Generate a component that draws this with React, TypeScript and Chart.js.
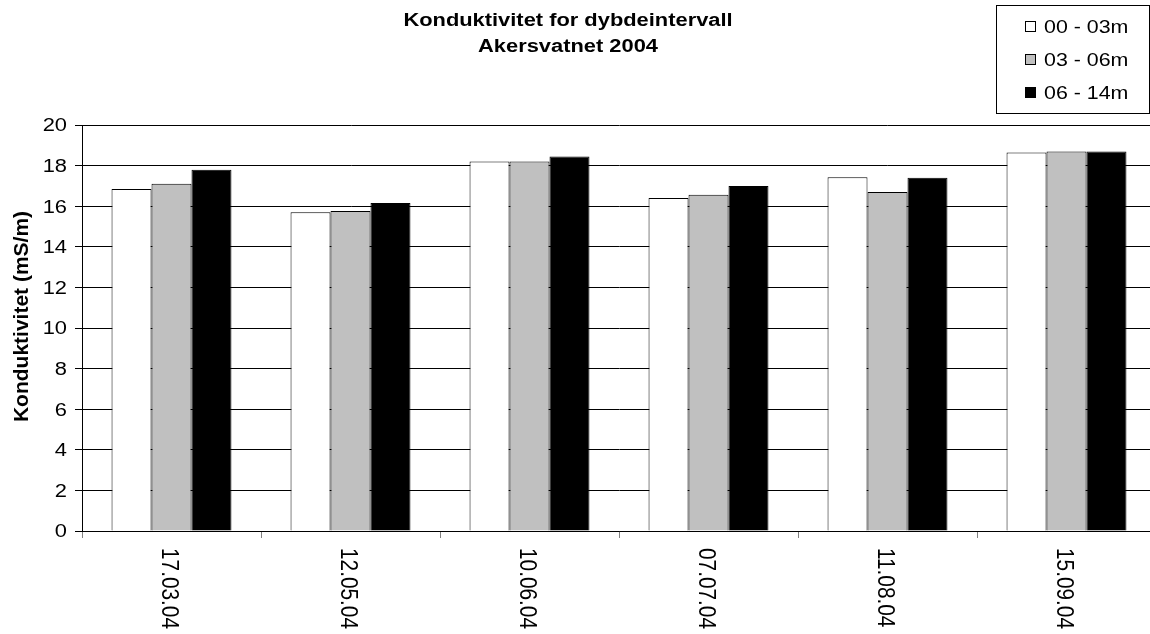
import React, { useEffect, useRef } from "react";
import { Chart, registerables } from "chart.js";

Chart.register(...registerables);

const categories = ["17.03.04", "12.05.04", "10.06.04", "07.07.04", "11.08.04", "15.09.04"];
const seriesNames = ["00 - 03m", "03 - 06m", "06 - 14m"];
const series0to3 = [16.85, 15.7, 18.2, 16.4, 17.42, 18.65];
const series3to6 = [17.1, 15.76, 18.2, 16.57, 16.7, 18.7];
const series6to14 = [17.8, 16.16, 18.45, 17.0, 17.4, 18.7];
const seriesColors = ["#ffffff", "#c0c0c0", "#000000"];
const yTickValues = [0, 2, 4, 6, 8, 10, 12, 14, 16, 18, 20];
const titleLines = ["Konduktivitet for dybdeintervall", "Akersvatnet 2004"];
const yAxisTitle = "Konduktivitet (mS/m)";

const FONT = '"Liberation Sans", Arial, sans-serif';

function drawText(
  ctx: CanvasRenderingContext2D,
  s: string,
  x: number,
  y: number,
  font: string,
  sx: number,
  align: CanvasTextAlign,
  rot: number
) {
  ctx.save();
  ctx.translate(x, y);
  ctx.scale(sx, 1);
  ctx.rotate(rot);
  ctx.font = font;
  ctx.textAlign = align;
  ctx.textBaseline = "alphabetic";
  ctx.fillStyle = "#000";
  ctx.fillText(s, 0, 0);
  ctx.restore();
}

const decorPlugin = {
  id: "decor",
  afterDraw(chart: any) {
    const ctx: CanvasRenderingContext2D = chart.ctx;
    const xs = chart.scales.x;
    const ys = chart.scales.y;

    // title
    drawText(ctx, titleLines[0], 568, 25.7, `bold 18.7px ${FONT}`, 1.17, "center", 0);
    drawText(ctx, titleLines[1], 568, 51.7, `bold 18.7px ${FONT}`, 1.17, "center", 0);

    // legend
    ctx.save();
    ctx.strokeStyle = "#000";
    ctx.lineWidth = 1;
    ctx.strokeRect(996.5, 5.5, 153, 108);
    const rows = [26.5, 59.5, 92.5];
    seriesNames.forEach((name, i) => {
      const cy = rows[i];
      ctx.fillStyle = seriesColors[i];
      ctx.fillRect(1025.5, Math.round(cy - 5.5) + 0.5, 10, 10);
      ctx.strokeStyle = "#000";
      ctx.strokeRect(1025.5, Math.round(cy - 5.5) + 0.5, 10, 10);
      drawText(ctx, name, 1044, cy + 6.7, `18.6px ${FONT}`, 1.15, "left", 0);
    });
    ctx.restore();

    // y tick labels
    yTickValues.forEach((v) => {
      const py = ys.getPixelForValue(v);
      drawText(ctx, String(v), 67, py + 6.3, `17.5px ${FONT}`, 1.25, "right", 0);
    });

    // x labels rotated
    categories.forEach((c, i) => {
      const px = xs.getPixelForValue(i);
      drawText(ctx, c, px - 9.5, 548, `20.8px ${FONT}`, 1.12, "left", Math.PI / 2);
    });

    // y axis title
    drawText(ctx, yAxisTitle, 27.7, 316.5, `bold 21px ${FONT}`, 0.96, "center", -Math.PI / 2);
  },
};

export default function App() {
  const canvasRef = useRef<HTMLCanvasElement | null>(null);

  useEffect(() => {
    if (!canvasRef.current) return;
    const datasets = [series0to3, series3to6, series6to14].map((d, i) => ({
      label: seriesNames[i],
      data: d,
      backgroundColor: seriesColors[i],
      borderColor: "#000",
      borderWidth: 1,
      categoryPercentage: 0.67,
      barPercentage: 1.0,
    }));
    const chart = new Chart(canvasRef.current, {
      type: "bar",
      data: { labels: categories, datasets },
      options: {
        animation: false,
        responsive: false,
        devicePixelRatio: 1,
        layout: { padding: { left: 82, top: 125, right: 4, bottom: 0 } },
        plugins: {
          legend: { display: false },
          title: { display: false },
          tooltip: { enabled: false },
        },
        scales: {
          x: {
            offset: true,
            grid: {
              display: true,
              offset: true,
              drawOnChartArea: false,
              drawTicks: true,
              tickLength: 7,
              color: "#808080",
            },
            border: { display: true, color: "#000", width: 1 },
            ticks: { display: false },
            afterFit: (s: any) => {
              s.height = 103;
            },
          },
          y: {
            min: 0,
            max: 20,
            afterBuildTicks: (s: any) => {
              s.ticks = yTickValues.map((v) => ({ value: v }));
            },
            grid: {
              display: true,
              drawTicks: true,
              tickLength: 7,
              color: "#000",
              lineWidth: 1,
            },
            border: { display: true, color: "#000", width: 1 },
            ticks: { display: false },
            afterFit: (s: any) => {
              s.width = 0;
            },
          },
        },
      },
      plugins: [decorPlugin],
    } as any);
    return () => chart.destroy();
  }, []);

  return (
    <div
      style={{
        position: "fixed",
        left: 0,
        top: 0,
        width: 1150,
        height: 634,
        overflow: "hidden",
        background: "#fff",
      }}
    >
      <canvas ref={canvasRef} width={1160} height={634} style={{ width: 1160, height: 634, display: "block" }} />
    </div>
  );
}
